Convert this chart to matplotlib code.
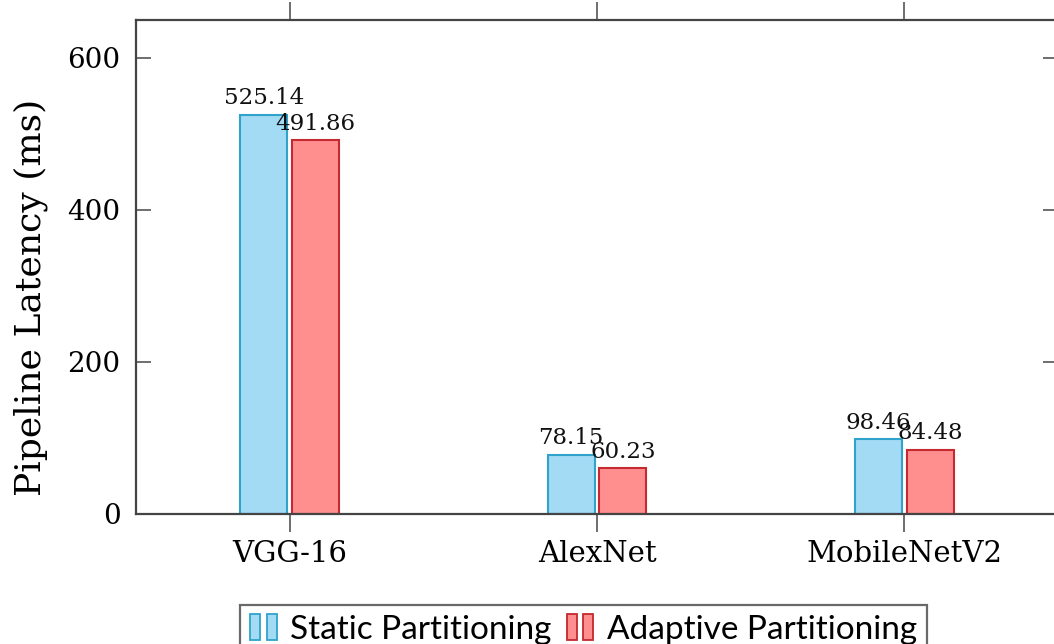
import matplotlib
matplotlib.use("Agg")
import matplotlib.pyplot as plt
from matplotlib.patches import Rectangle
from matplotlib.legend_handler import HandlerBase
import numpy as np

categories = ["VGG-16", "AlexNet", "MobileNetV2"]
static_vals = [525.14, 78.15, 98.46]
adaptive_vals = [491.86, 60.23, 84.48]
series_names = ["Static Partitioning", "Adaptive Partitioning"]
yticks = [0, 200, 400, 600]

blue_fill = "#A3DAF4"
blue_edge = "#2FA3CC"
red_fill = "#FF8F8F"
red_edge = "#C42A2F"

serif = ["DejaVu Serif"]
sans = ["Lato", "DejaVu Sans"]

W, H = 1054, 644
fig = plt.figure(figsize=(W / 100, H / 100), dpi=100)
left, right, bottom, top = 136, 1058, 514, 20
ax = fig.add_axes([left / W, 1 - bottom / H, (right - left) / W, (bottom - top) / H])

x = np.arange(len(categories))
bw = 0.153
off = 0.0845
b1 = ax.bar(x - off, static_vals, bw, color=blue_fill, edgecolor=blue_edge, linewidth=1.5, zorder=2)
b2 = ax.bar(x + off, adaptive_vals, bw, color=red_fill, edgecolor=red_edge, linewidth=1.5, zorder=2)

ax.bar_label(b1, labels=[f"{v:.2f}" for v in static_vals], padding=4,
             fontsize=16.5, family=serif, color="#111111")
ax.bar_label(b2, labels=[f"{v:.2f}" for v in adaptive_vals], padding=4,
             fontsize=16.5, family=serif, color="#111111")

ax.set_xlim(-0.5, 2.5)
ax.set_ylim(0, 650)
ax.set_xticks(x)
ax.set_xticklabels(categories, fontsize=21, family=serif, color="#000000")
ax.set_yticks(yticks)
ax.set_yticklabels([str(t) for t in yticks], fontsize=20, family=serif, color="#000000")
ax.tick_params(axis="x", direction="out", length=13, width=1.2, color="#555555",
               top=True, bottom=True, pad=6)
ax.tick_params(axis="y", direction="in", length=11, width=1.2, color="#555555",
               left=True, right=True, pad=11)
for s in ax.spines.values():
    s.set_linewidth(1.6)
    s.set_color("#444444")
ax.set_ylabel("Pipeline Latency (ms)", fontsize=26, family=serif, color="#000000")
ax.yaxis.set_label_coords(-0.0954, 0.439)


class DoubleBar(HandlerBase):
    def create_artists(self, legend, orig_handle, xdescent, ydescent, width, height, fontsize, trans):
        fc, ec = orig_handle
        w = width * 0.34
        h = height * 1.1
        y0 = -ydescent - 0.05 * height
        r1 = Rectangle((-xdescent, y0), w, h, facecolor=fc, edgecolor=ec, linewidth=1.3, transform=trans)
        r2 = Rectangle((-xdescent + width * 0.55, y0), w, h, facecolor=fc, edgecolor=ec, linewidth=1.3, transform=trans)
        return [r1, r2]


handles = [(blue_fill, blue_edge), (red_fill, red_edge)]
leg = fig.legend(handles, series_names, handler_map={tuple: DoubleBar()},
                 loc="upper center", bbox_to_anchor=(583.5 / W, 1 - 588 / H),
                 ncol=2, frameon=True, fancybox=False, edgecolor="#444444",
                 handlelength=0.9, handletextpad=0.3, columnspacing=0.45,
                 borderpad=0.3, prop={"family": sans, "size": 24})
leg.get_frame().set_linewidth(1.6)

fig.savefig("out.png", dpi=100)
